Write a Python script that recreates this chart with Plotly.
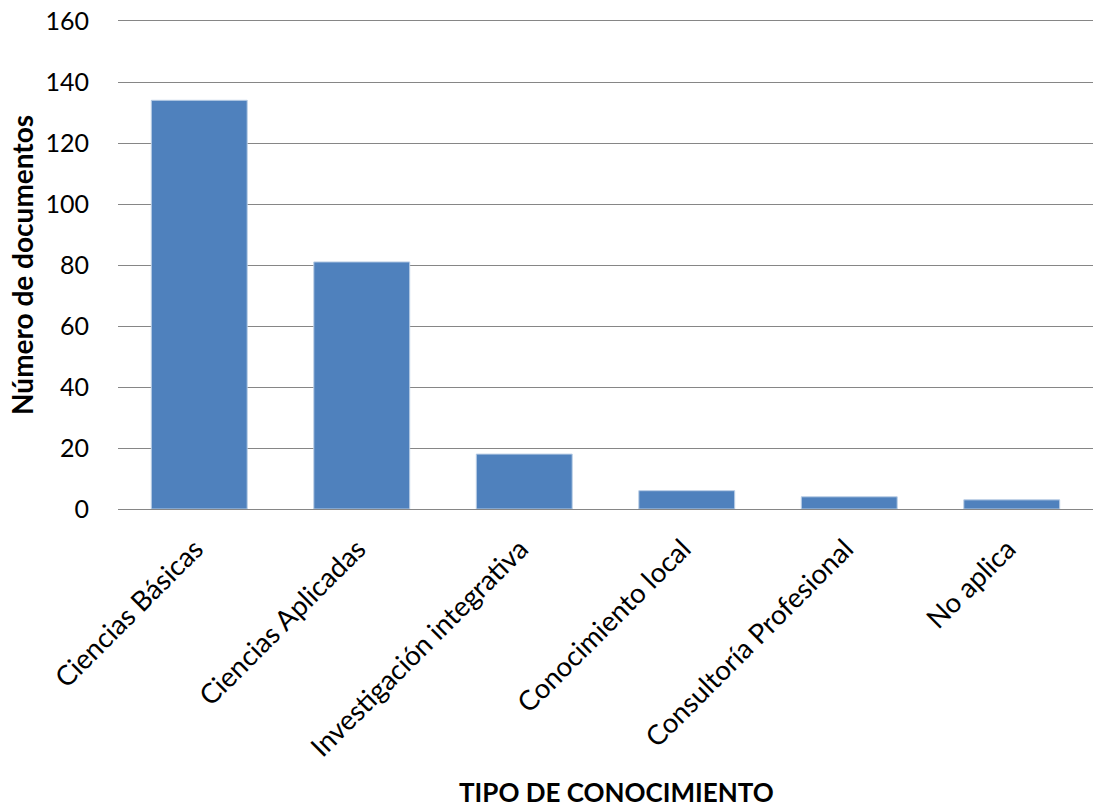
import plotly.graph_objects as go

categories = ["Ciencias Básicas", "Ciencias Aplicadas", "Investigación integrativa",
              "Conocimiento local", "Consultoría Profesional", "No aplica"]
values = [134, 81, 18, 6, 4, 3]
y_ticks = [0, 20, 40, 60, 80, 100, 120, 140, 160]

FONT = "Lato"

fig = go.Figure(go.Bar(
    x=categories, y=values,
    marker=dict(color="#4F81BD", line=dict(color="#B9CDE5", width=1)),
))

fig.update_layout(
    width=1108, height=808,
    margin=dict(l=118, r=15, t=21, b=299),
    paper_bgcolor="white", plot_bgcolor="white",
    bargap=0.41,
    showlegend=False,
    font=dict(family=FONT, size=23, color="black"),
    xaxis=dict(
        automargin=False,
        tickangle=-45,
        showgrid=False,
        showline=True, linecolor="#868686", linewidth=1, mirror=True,
        ticks="",
        ticklabelstandoff=12,
        ticklabelshift=-4,
        ticklabeloverflow="allow",
        tickfont=dict(family=FONT, size=27.5),
    ),
    yaxis=dict(
        automargin=False,
        range=[0, 160],
        tickvals=y_ticks,
        showgrid=True, gridcolor="#868686", gridwidth=1,
        zeroline=False,
        ticks="",
        ticklabelstandoff=28,
        ticklabeloverflow="allow",
        tickfont=dict(family=FONT, size=25),
    ),
    annotations=[
        dict(text="<b>TIPO DE CONOCIMIENTO</b>", xref="paper", yref="paper",
             x=0.511, y=-0.58, xanchor="center", yanchor="middle",
             showarrow=False, font=dict(family=FONT, size=26)),
        dict(text="<b>Número de documentos</b>", xref="paper", yref="paper",
             x=-0.0985, y=0.5, xanchor="center", yanchor="middle", textangle=-90,
             showarrow=False, borderpad=0,
             font=dict(family=FONT, size=28)),
    ],
)

fig.write_html("out.html",
               config={"displayModeBar": False},
               post_script="document.body.style.margin='0';document.body.style.padding='0';")
